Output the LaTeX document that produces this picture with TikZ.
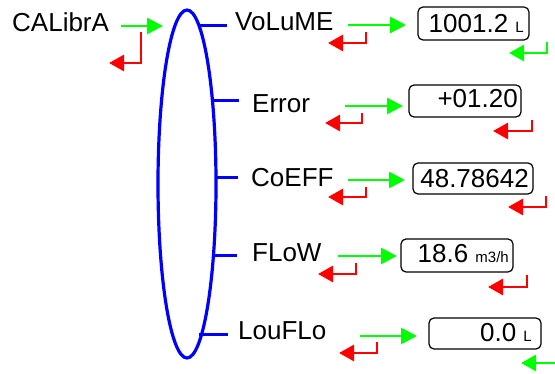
\documentclass[tikz,border=0pt]{standalone}
\usepackage{fontspec}
\setmainfont{Liberation Sans}
\usetikzlibrary{arrows.meta,shapes.geometric}
\definecolor{lime}{RGB}{0,255,0}
\definecolor{pred}{RGB}{255,0,0}
\definecolor{pblue}{RGB}{0,0,255}
\begin{document}
\begin{tikzpicture}[x=1pt,y=-1pt,
  lbl/.style={font=\fontsize{26}{30}\selectfont, inner sep=0pt, anchor=base west},
  val/.style={font=\fontsize{26}{30}\selectfont, inner sep=0pt, anchor=base east},
  valbox/.style={draw, rounded corners=5pt, line width=1.2pt, inner sep=0pt},
  tick/.style={pblue, line width=3pt},
  goarrow/.style={lime, line width=2.6pt, -{Triangle[length=16pt,width=16pt]}},
  backred/.style={pred, line width=2.8pt, -{Triangle[length=15pt,width=16pt]}},
  backgreen/.style={lime, line width=2.8pt, -{Triangle[length=15pt,width=16pt]}}
]
\useasboundingbox (0,0) rectangle (555,374);
\newcommand{\unitsz}{\fontsize{15}{17}\selectfont}

% ellipse
\node[draw=pblue, line width=3.2pt, ellipse, minimum width=58pt, minimum height=348pt, inner sep=0pt] (ell) at (187,184) {};

% labels
\node[lbl] (cal) at (12,32) {CALibrA};
\node[lbl] (vol) at (235,31) {VoLuME};
\node[lbl] (err) at (252,113) {Error};
\node[lbl] (coe) at (251,187) {CoEFF};
\node[lbl] (flo) at (252,262) {FLoW};
\node[lbl] (lou) at (238,340) {LouFLo};

% ticks
\coordinate (t1a) at (198,26);   \coordinate (t1b) at (227,26);
\coordinate (t2a) at (211,101);  \coordinate (t2b) at (239,101);
\coordinate (t3a) at (215,178);  \coordinate (t3b) at (238,178);
\coordinate (t4a) at (212,256);  \coordinate (t4b) at (237,256);
\coordinate (t5a) at (199,335);  \coordinate (t5b) at (228,335);
\draw[tick] (t1a) -- (t1b);
\draw[tick] (t2a) -- (t2b);
\draw[tick] (t3a) -- (t3b);
\draw[tick] (t4a) -- (t4b);
\draw[tick] (t5a) -- (t5b);

% value boxes
\node[valbox, minimum width=111pt, minimum height=33pt] (b1) at (473.5,23.5) {};
\node[valbox, minimum width=112pt, minimum height=32pt] (b2) at (465,101) {};
\node[valbox, minimum width=120pt, minimum height=31pt] (b3) at (473,178.5) {};
\node[valbox, minimum width=112pt, minimum height=33pt] (b4) at (457,255.5) {};
\node[valbox, minimum width=112pt, minimum height=31pt] (b5) at (485,333.5) {};

\node[val] (v1) at (524,33) {1001.2 {\unitsz L}};
\node[val] (v2) at (518,108) {+01.20};
\node[val] (v3) at (529,188) {48.78642};
\node[val] (v4) at (509,263) {18.6 {\unitsz m3/h}};
\node[val] (v5) at (532,342) {0.0 {\unitsz L}};

% green forward arrows
\coordinate (g0a) at (121,26);  \coordinate (g0b) at (163,26);
\coordinate (g1a) at (348,25);  \coordinate (g1b) at (406,25);
\coordinate (g2a) at (345,106); \coordinate (g2b) at (403,106);
\coordinate (g3a) at (348,180); \coordinate (g3b) at (405,180);
\coordinate (g4a) at (338,256); \coordinate (g4b) at (397,256);
\coordinate (g5a) at (360,336); \coordinate (g5b) at (417,336);
\draw[goarrow] (g0a) -- (g0b);
\draw[goarrow] (g1a) -- (g1b);
\draw[goarrow] (g2a) -- (g2b);
\draw[goarrow] (g3a) -- (g3b);
\draw[goarrow] (g4a) -- (g4b);
\draw[goarrow] (g5a) -- (g5b);

% red return arrows
\coordinate (r0a) at (141,32);  \coordinate (r0b) at (109,63);
\coordinate (r1a) at (366,32);  \coordinate (r1b) at (328,43);
\coordinate (r2a) at (362,113); \coordinate (r2b) at (325,123);
\coordinate (r2c) at (532,120); \coordinate (r2d) at (493,131);
\coordinate (r3a) at (366,187); \coordinate (r3b) at (328,197);
\coordinate (r3c) at (546,196); \coordinate (r3d) at (508,207);
\coordinate (r4a) at (356,263); \coordinate (r4b) at (318,274);
\coordinate (r4c) at (527,275); \coordinate (r4d) at (488,287);
\coordinate (r5a) at (377,342); \coordinate (r5b) at (339,353);
\draw[backred] (r0a) |- (r0b);
\draw[backred] (r1a) |- (r1b);
\draw[backred] (r2a) |- (r2b);
\draw[backred] (r2c) |- (r2d);
\draw[backred] (r3a) |- (r3b);
\draw[backred] (r3c) |- (r3d);
\draw[backred] (r4a) |- (r4b);
\draw[backred] (r4c) |- (r4d);
\draw[backred] (r5a) |- (r5b);

% green return arrows
\coordinate (q1a) at (547,42);  \coordinate (q1b) at (509,53);
\coordinate (q5a) at (560,363); \coordinate (q5b) at (521,363);
\draw[backgreen] (q1a) |- (q1b);
\draw[backgreen] (q5a) -- (q5b);
\end{tikzpicture}
\end{document}
